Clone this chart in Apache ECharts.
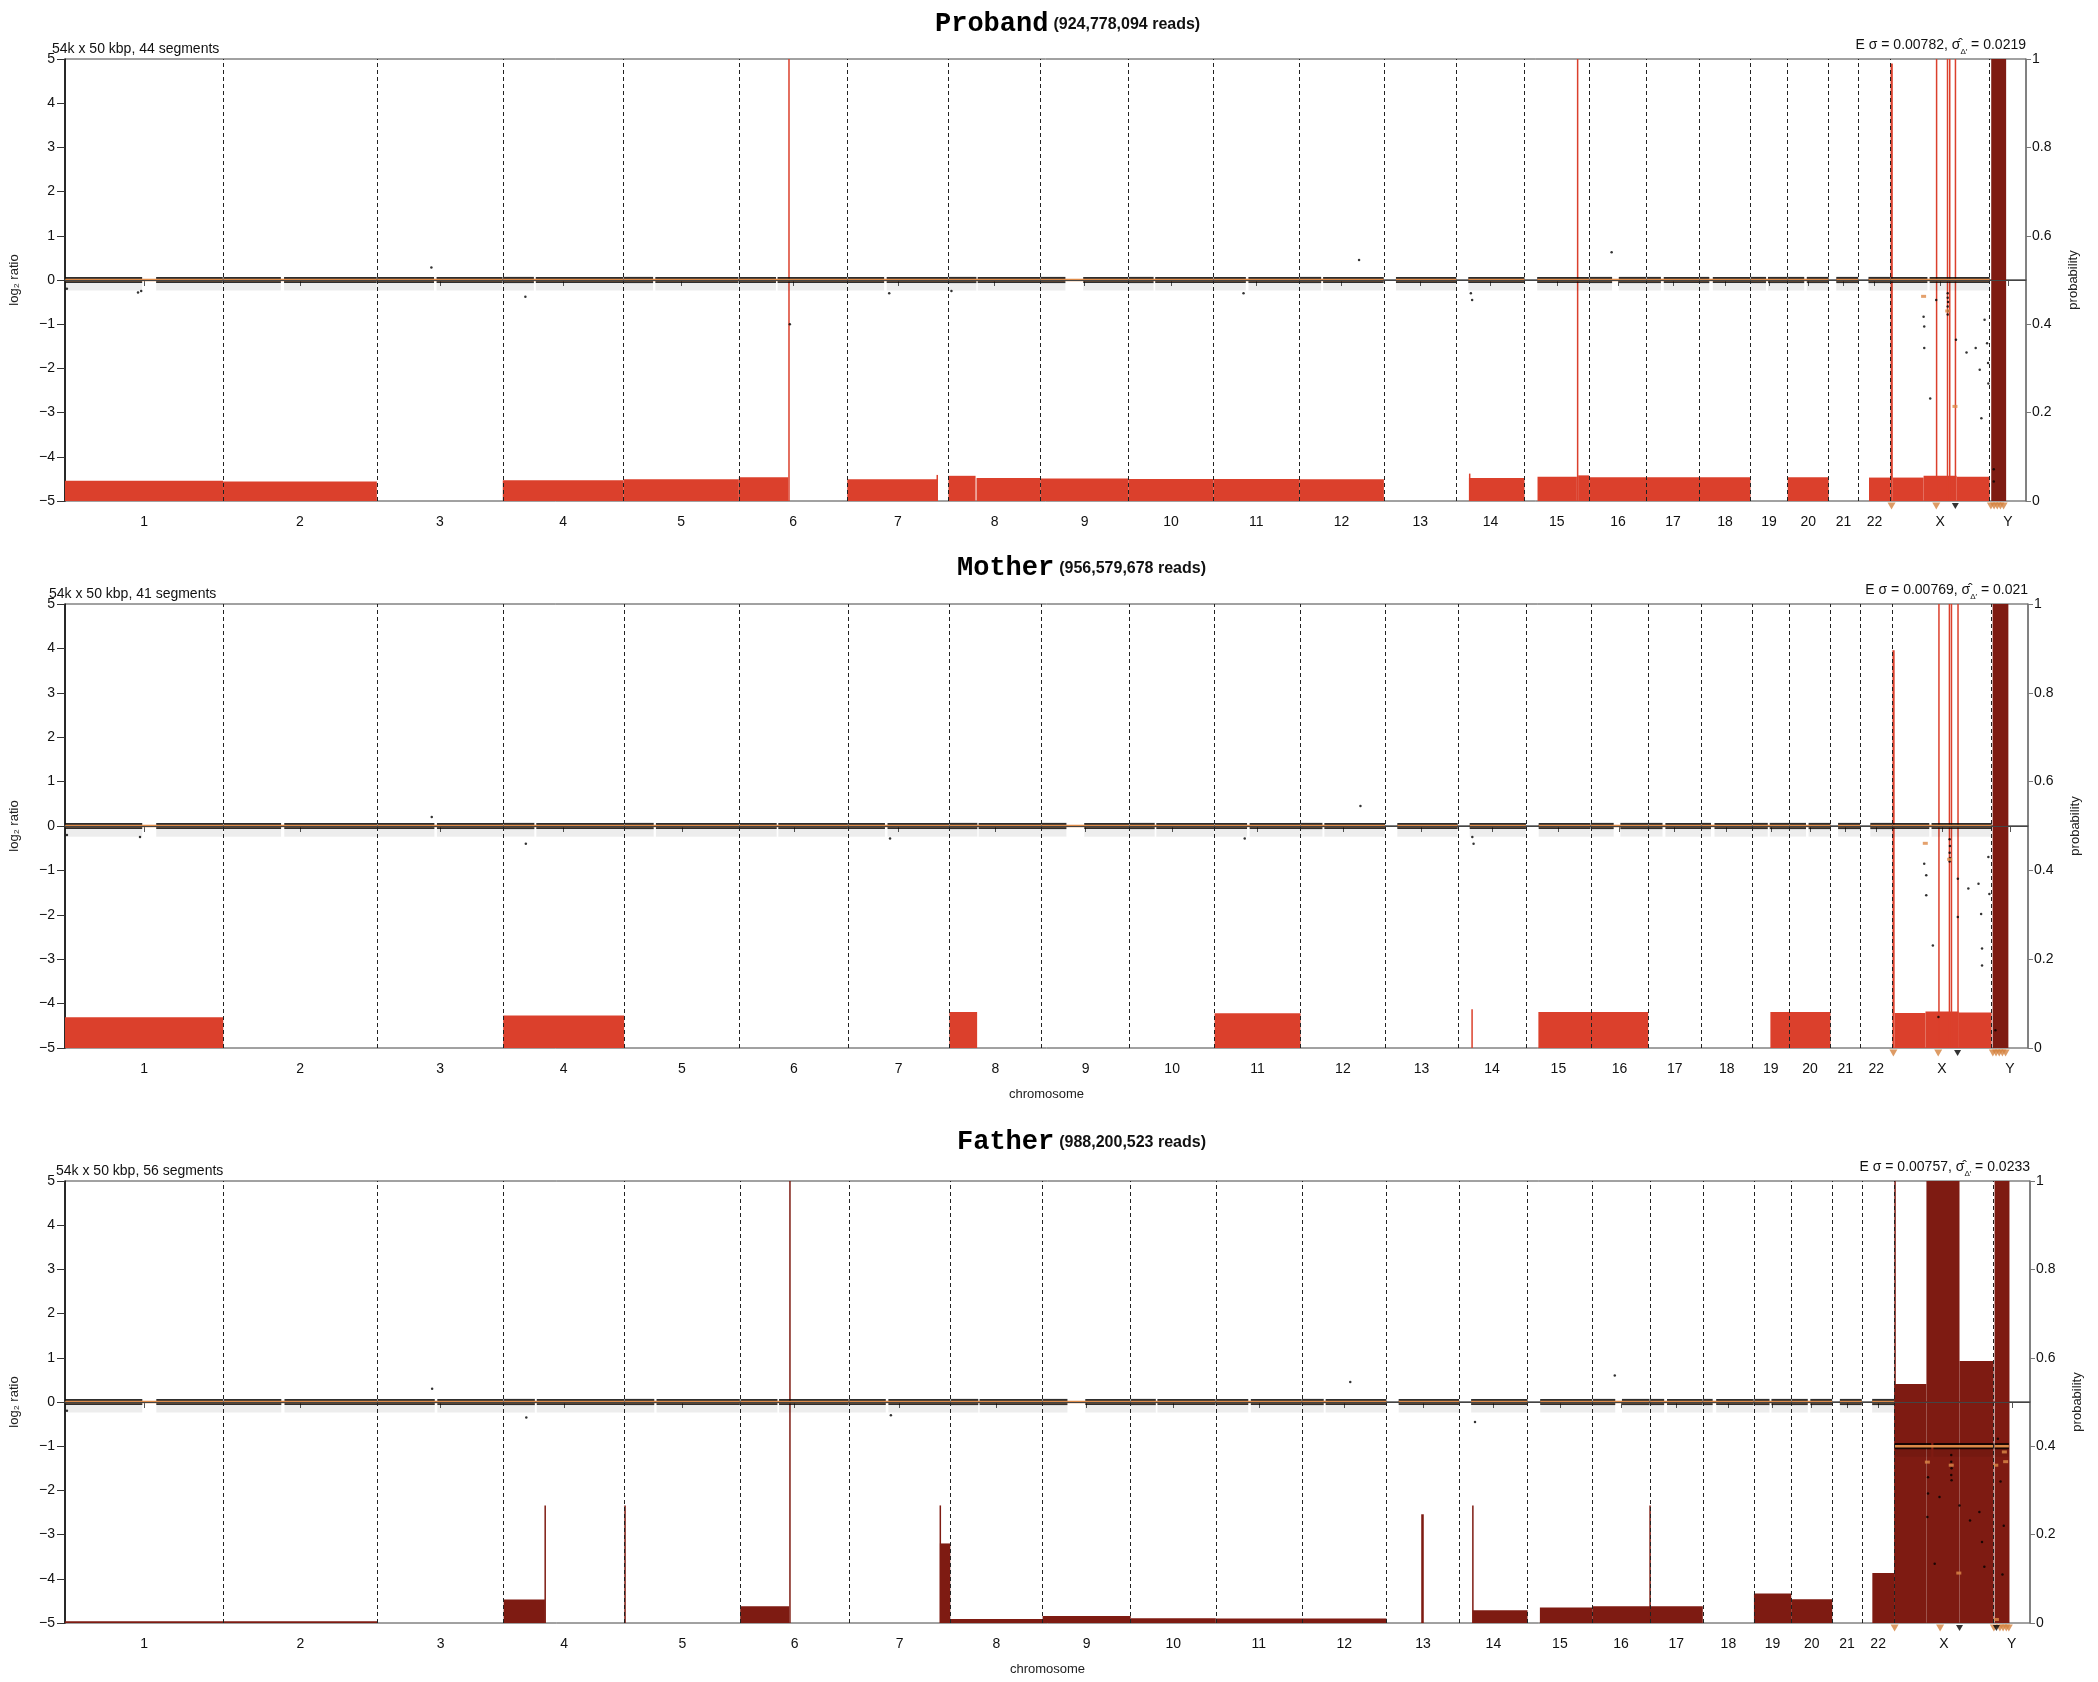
<!DOCTYPE html>
<html>
<head>
<meta charset="utf-8">
<script src="https://cdn.jsdelivr.net/npm/echarts@6/dist/echarts.min.js"></script>
<style>
  html, body { margin: 0; padding: 0; background: #fff; }
  #container { width: 2098px; height: 1682px; }
</style>
</head>
<body>
<div id="container"></div>
<script>
// chromosomes and their lengths (Mb, hg38)
const chromNames = ['1','2','3','4','5','6','7','8','9','10','11','12','13','14','15','16','17','18','19','20','21','22','X','Y'];
const chromLengths = [248.96, 242.19, 198.30, 190.21, 181.54, 170.81, 159.35, 145.14, 138.39, 133.80, 135.09, 133.28,
  114.36, 107.04, 101.99, 90.34, 83.26, 80.37, 58.62, 64.44, 46.71, 50.82, 156.04, 57.23];

// regions with bins (chromosome, start Mb, end Mb)
const autosomeArms = [
  ['1', 0.5, 121.5], ['1', 143.5, 248.5], ['2', 0.5, 91], ['2', 96, 242], ['3', 0.5, 90], ['3', 94, 198],
  ['4', 0.5, 49], ['4', 52, 190], ['5', 0.5, 46.5], ['5', 50, 181], ['6', 0.5, 58.5], ['6', 61, 170.5],
  ['7', 0.5, 58], ['7', 62, 159], ['8', 0.5, 44], ['8', 46, 145], ['9', 0.5, 39], ['9', 67, 138],
  ['10', 0.5, 39.5], ['10', 42, 133.5], ['11', 0.5, 51], ['11', 55, 135], ['12', 0.5, 34.5], ['12', 37.5, 133],
  ['13', 19, 114], ['14', 18.5, 107], ['15', 20, 101.5], ['16', 0.5, 36], ['16', 46.5, 90],
  ['17', 0.5, 22.5], ['17', 27, 83], ['18', 0.5, 15.5], ['18', 21, 80], ['19', 0.5, 24.5], ['19', 27.5, 58.5],
  ['20', 0.5, 26], ['20', 30, 64.3], ['21', 12, 46.5], ['22', 16, 50.7]
];
const xArms = [['X', 0.5, 58], ['X', 61.5, 156]];
const yArms = [['Y', 1.5, 24]];

// log2 level of the X / Y segments
const probandXLevel = 0;
const motherXLevel = 0;
const fatherXLevel = -1.0;
const fatherYLevel = -1.0;

// probability bars: [start, end, probability] in genome Mb
const probandRedBars = [
  [0, 248.96, 0.046], [248.96, 491.15, 0.044], [689.45, 879.66, 0.047], [879.66, 1061.2, 0.049],
  [1061.2, 1139, 0.054], [1232.01, 1374, 0.049], [1372.5, 1374.5, 0.059], [1391.36, 1434, 0.057],
  [1435.5, 1536.5, 0.052], [1536.5, 1674.89, 0.051], [1674.89, 1808.69, 0.05], [1808.69, 1943.78, 0.05],
  [1943.78, 2077.06, 0.049], [2211, 2298.46, 0.052], [2211, 2212.5, 0.062], [2319, 2381, 0.055],
  [2383, 2400.45, 0.058], [2400.45, 2654.42, 0.054], [2713.04, 2777.48, 0.054], [2841, 2875.01, 0.053],
  [2878.5, 2927, 0.053], [2927, 2979, 0.057], [2979, 3031, 0.055],
  [1139, 1141, 1.0], [2381, 2383, 1.0], [2875.01, 2878.5, 0.99],
  [2946.3, 2947.3, 1.0], [2963.5, 2965, 1.0], [2967, 2968.5, 1.0], [2976, 2977, 1.0]
];
const probandDarkBars = [[3033.5, 3057, 1.0]];

const motherRedBars = [
  [0, 248.96, 0.069], [689.45, 879.66, 0.073], [1391.36, 1435, 0.081], [1808.69, 1943.78, 0.078],
  [2212.5, 2214, 0.087], [2318, 2490.79, 0.081], [2683, 2777.48, 0.081],
  [2878.5, 2927, 0.079], [2927, 2979, 0.082], [2979, 3031, 0.08], [2875.01, 2878.5, 0.896],
  [2947, 2948, 1.0], [2963.5, 2965.3, 1.0], [2966.7, 2968.5, 1.0], [2977, 2978, 1.0]
];
const motherDarkBars = [[3032.6, 3057.4, 1.0]];

const fatherRedBars = [];
const fatherDarkBars = [
  [0, 491.15, 0.004], [689.45, 754.3, 0.053], [753.5, 755.5, 0.266], [879, 880.5, 0.266],
  [1061.2, 1138.2, 0.038], [1138.2, 1140, 1.0], [1374.5, 1376, 0.266], [1375, 1391.36, 0.18],
  [1391.36, 1536.5, 0.009], [1536.5, 1674.89, 0.016], [1674.89, 1808.69, 0.011], [1808.69, 2077.06, 0.01],
  [2131.5, 2135.5, 0.246], [2211.5, 2213, 0.266], [2212, 2298.46, 0.029], [2318, 2400.45, 0.035],
  [2400.45, 2574.05, 0.038], [2490, 2491.5, 0.266], [2654.42, 2713.04, 0.067], [2713.04, 2777.48, 0.054],
  [2840.5, 2875.01, 0.113], [2875.01, 2925.5, 0.541], [2925.5, 2977.5, 1.0], [2977.5, 3031.05, 0.593],
  [2875.01, 2876.5, 1.0], [3032.6, 3056, 1.0]
];

// scattered bins away from the band: [genome Mb, log2 ratio]
const probandOutliers = [
  [3, -0.2], [115, -0.28], [120, -0.25], [577, 0.28], [725, -0.38], [1141.5, -1.0], [1298, -0.3], [1396, -0.25],
  [1856, -0.3], [2038, 0.45], [2214, -0.3], [2216, -0.45], [2435.7, 0.63],
  [2927, -0.83], [2928, -1.05], [2928, -1.54], [2937.4, -2.68], [2946.8, -0.45],
  [2965, -0.3], [2965, -0.4], [2965.5, -0.5], [2965, -0.6], [2965.5, -0.7], [2965, -0.78],
  [2978, -1.35], [2994.6, -1.64], [3009, -1.54], [3015.4, -2.03], [3018, -3.13], [3023, -0.9],
  [3027, -1.43], [3028.5, -1.88], [3029, -2.34], [3037.5, -4.28], [3037.5, -4.56]
];
const motherOutliers = [
  [3, -0.2], [118, -0.25], [577, 0.2], [725, -0.4], [1298, -0.28], [1856, -0.28], [2038, 0.45], [2216, -0.4],
  [2214, -0.25], [2925, -0.85], [2928.2, -1.11], [2928.2, -1.56], [2938.6, -2.69],
  [2965, -0.3], [2965.5, -0.45], [2965, -0.6], [2965.5, -0.72], [2965, -0.8],
  [2977.9, -1.19], [2977.9, -2.05], [2994.4, -1.41], [3010.4, -1.3], [3014.5, -1.98], [3016, -2.76],
  [3016, -3.14], [3025.9, -0.7], [3027.5, -1.53], [2947.4, -4.3], [3037, -4.6]
];
const fatherOutliers = [
  [3, -0.2], [577, 0.3], [725, -0.35], [1298, -0.3], [2020, 0.45], [2216, -0.45], [2435.7, 0.6],
  [2928, -1.7], [2928, -2.07], [2927, -2.6], [2964.5, -1.2], [2964.5, -1.35], [2965, -1.5], [2964.5, -1.65],
  [2965, -1.77], [2946, -2.15], [2977.5, -2.34], [2994, -2.68], [3008.7, -2.49], [3012.8, -3.17],
  [2938.5, -3.66], [3016.5, -3.73], [3037.8, -0.83], [3042, -1.8], [3047, -2.8], [3045, -3.9]
];

// segment means off the main line
const probandSegPoints = [[2927, -0.37], [2965, -0.7], [2976.4, -2.86]];
const motherSegPoints = [[2926.7, -0.39], [2965, -0.75]];
const fatherSegPoints = [[2927, -1.36], [2964.5, -1.43], [2976.4, -3.87], [3034.5, -1.43], [3048, -1.13], [3050, -1.35], [3035.5, -4.92]];

// markers under the axis
const probandOrangeMarks = [2876.5, 2947, 3033, 3038, 3043, 3048, 3053];
const probandBlackMarks = [2977];
const motherOrangeMarks = [2876.5, 2947, 3033, 3038, 3043, 3048, 3053];
const motherBlackMarks = [2977.5];
const fatherOrangeMarks = [2875.5, 2947, 3031.5, 3041, 3046, 3051, 3055];
const fatherBlackMarks = [2977.5, 3035.5];

const probandLabel = ['Proband', '924,778,094', 44, '0.00782', '0.0219'];
const motherLabel = ['Mother', '956,579,678', 41, '0.00769', '0.021'];
const fatherLabel = ['Father', '988,200,523', 56, '0.00757', '0.0233'];

// ---- derived positions ----
const chromStarts = [];
let acc = 0;
chromLengths.forEach(l => { chromStarts.push(acc); acc += l; });
const GENOME_END = acc;
const chromMids = chromStarts.map((s, i) => +(s + chromLengths[i] / 2).toFixed(3));
const midName = {};
chromMids.forEach((m, i) => { midName[m.toFixed(3)] = chromNames[i]; });
const boundaries = chromStarts.slice(1);

const g = (ch, pos) => chromStarts[chromNames.indexOf(ch)] + pos;
const bandData = (arms, level) => arms.map(a => [g(a[0], a[1]), g(a[0], a[2]), level]);
const segData = (arms, level) => {
  const out = {};
  arms.forEach(a => {
    const s = g(a[0], a[1]), e = g(a[0], a[2]);
    if (!out[a[0]]) out[a[0]] = [s, e, level];
    else { out[a[0]][0] = Math.min(out[a[0]][0], s); out[a[0]][1] = Math.max(out[a[0]][1], e); }
  });
  return Object.values(out);
};

const ORANGE = '#dd8a48';
const RED = '#db402c';
const DARK = '#7e1b12';
const FONT = 'Liberation Sans';

const panels = [
  { label: probandLabel, left: 52, right: 2026, top: 59, bottom: 501, titleLeft: 935, titleTop: 11, xname: '',
    bands: bandData(autosomeArms, 0).concat(bandData(xArms, probandXLevel)),
    segs: segData(autosomeArms, 0).concat(segData(xArms, probandXLevel)),
    red: probandRedBars, dark: probandDarkBars, out: probandOutliers, segPts: probandSegPoints,
    om: probandOrangeMarks, bm: probandBlackMarks },
  { label: motherLabel, left: 49, right: 2028, top: 604, bottom: 1048, titleLeft: 957, titleTop: 555, xname: 'chromosome',
    bands: bandData(autosomeArms, 0).concat(bandData(xArms, motherXLevel)),
    segs: segData(autosomeArms, 0).concat(segData(xArms, motherXLevel)),
    red: motherRedBars, dark: motherDarkBars, out: motherOutliers, segPts: motherSegPoints,
    om: motherOrangeMarks, bm: motherBlackMarks },
  { label: fatherLabel, left: 56, right: 2030, top: 1181, bottom: 1623, titleLeft: 957, titleTop: 1129, xname: 'chromosome',
    bands: bandData(autosomeArms, 0).concat(bandData(xArms, fatherXLevel), bandData(yArms, fatherYLevel)),
    segs: segData(autosomeArms, 0).concat(segData(xArms, fatherXLevel), segData(yArms, fatherYLevel)),
    red: fatherRedBars, dark: fatherDarkBars, out: fatherOutliers, segPts: fatherSegPoints,
    om: fatherOrangeMarks, bm: fatherBlackMarks }
];

function barItem(color) {
  return function (params, api) {
    const a = api.coord([api.value(0), 0]);
    const b = api.coord([api.value(1), api.value(2)]);
    const w = Math.max(b[0] - a[0], 1.5);
    return { type: 'rect', shape: { x: a[0], y: b[1], width: w, height: a[1] - b[1] }, style: { fill: color } };
  };
}
function bandItem(params, api) {
  const x0 = api.value(0), x1 = api.value(1), lv = api.value(2);
  const a = api.coord([x0, lv + 0.07]);
  const b = api.coord([x1, lv - 0.07]);
  const c = api.coord([x1, lv - 0.24]);
  return { type: 'group', children: [
    { type: 'rect', shape: { x: a[0], y: b[1], width: c[0] - a[0], height: c[1] - b[1] }, style: { fill: 'rgba(0,0,0,0.07)' } },
    { type: 'rect', shape: { x: a[0], y: a[1], width: b[0] - a[0], height: b[1] - a[1] }, style: { fill: 'rgba(0,0,0,0.82)' } }
  ] };
}
function segItem(params, api) {
  const a = api.coord([api.value(0), api.value(2)]);
  const b = api.coord([api.value(1), api.value(2)]);
  return { type: 'line', shape: { x1: a[0], y1: a[1], x2: b[0], y2: b[1] }, style: { stroke: ORANGE, lineWidth: 2.5 } };
}

const grid = [], xAxis = [], yAxis = [], series = [], title = [];
const fmtLog = v => (v < 0 ? '\u2212' + (-v) : String(v));

panels.forEach((p, i) => {
  grid.push({ left: p.left, top: p.top, width: p.right - p.left, height: p.bottom - p.top,
    show: true, borderColor: '#444', borderWidth: 1 });
  xAxis.push({ type: 'value', gridIndex: i, min: 0, max: GENOME_END,
    name: p.xname, nameLocation: 'middle', nameGap: 40,
    nameTextStyle: { fontFamily: FONT, fontSize: 13, color: '#222' },
    axisLine: { show: true, lineStyle: { color: '#555', width: 1.5 } },
    axisTick: { show: true, length: 6, lineStyle: { color: '#555' }, customValues: chromMids },
    axisLabel: { customValues: chromMids, margin: 14, fontFamily: FONT, fontSize: 14, color: '#111',
      formatter: v => midName[(+v).toFixed(3)] || '' },
    splitLine: { show: false } });
  yAxis.push({ type: 'value', gridIndex: i, min: -5, max: 5, interval: 1, position: 'left',
    name: 'log\u2082 ratio', nameLocation: 'middle', nameRotate: 90, nameGap: 44,
    nameTextStyle: { fontFamily: FONT, fontSize: 13, color: '#222' },
    axisLine: { show: true, lineStyle: { color: '#000', width: 1.5 } },
    axisTick: { show: true, length: 8, lineStyle: { color: '#333' } },
    axisLabel: { margin: 10, fontFamily: FONT, fontSize: 14, color: '#111', formatter: fmtLog },
    splitLine: { show: false } });
  yAxis.push({ type: 'value', gridIndex: i, min: 0, max: 1, interval: 0.2, position: 'right',
    name: 'probability', nameLocation: 'middle', nameRotate: 90, nameGap: 41,
    nameTextStyle: { fontFamily: FONT, fontSize: 13, color: '#222' },
    axisLine: { show: true, lineStyle: { color: '#777', width: 1.5 } },
    axisTick: { show: true, length: 5, lineStyle: { color: '#777' } },
    axisLabel: { margin: 6, fontFamily: FONT, fontSize: 14, color: '#111', formatter: v => String(+(+v).toFixed(1)) },
    splitLine: { show: false } });

  const yl = 2 * i, yp = 2 * i + 1;
  series.push({ type: 'custom', xAxisIndex: i, yAxisIndex: yp, renderItem: barItem(RED), data: p.red,
    encode: { x: [0, 1], y: 2 }, z: 1, silent: true });
  series.push({ type: 'custom', xAxisIndex: i, yAxisIndex: yp, renderItem: barItem(DARK), data: p.dark,
    encode: { x: [0, 1], y: 2 }, z: 1, silent: true });
  series.push({ type: 'custom', xAxisIndex: i, yAxisIndex: yl, renderItem: bandItem, data: p.bands,
    encode: { x: [0, 1], y: 2 }, z: 2, silent: true });
  series.push({ type: 'custom', xAxisIndex: i, yAxisIndex: yl, renderItem: segItem, data: p.segs,
    encode: { x: [0, 1], y: 2 }, z: 3, silent: true });
  series.push({ type: 'scatter', xAxisIndex: i, yAxisIndex: yl, data: p.out, symbolSize: 2.5,
    itemStyle: { color: '#000' }, z: 4, silent: true });
  series.push({ type: 'scatter', xAxisIndex: i, yAxisIndex: yl, data: p.segPts, symbol: 'rect', symbolSize: [5, 3],
    itemStyle: { color: ORANGE }, z: 4, silent: true });
  series.push({ type: 'scatter', xAxisIndex: i, yAxisIndex: yl, data: p.om.map(v => [v, -5]), symbol: 'triangle',
    symbolRotate: 180, symbolSize: [8, 7], symbolOffset: [0, 5], clip: false,
    itemStyle: { color: '#d4823e' }, z: 4, silent: true });
  series.push({ type: 'scatter', xAxisIndex: i, yAxisIndex: yl, data: p.bm.map(v => [v, -5]), symbol: 'triangle',
    symbolRotate: 180, symbolSize: [7, 6], symbolOffset: [0, 5], clip: false,
    itemStyle: { color: '#000' }, z: 4, silent: true,
    markLine: { silent: true, symbol: 'none', animation: false, label: { show: false }, z: 6,
      data: boundaries.map(b => ({ xAxis: b, lineStyle: { type: [4, 3], color: '#222', width: 1 } }))
        .concat([{ yAxis: 0, lineStyle: { type: 'solid', color: '#444', width: 1.2 } }]) } });

  const L = p.label;
  title.push({ left: p.titleLeft, top: p.titleTop, padding: 0,
    text: '{a|' + L[0] + '} {b|(' + L[1] + ' reads)}',
    textStyle: { rich: {
      a: { fontFamily: 'Liberation Mono', fontWeight: 'bold', fontSize: 27, color: '#000' },
      b: { fontFamily: FONT, fontWeight: 'bold', fontSize: 16, color: '#111' } } } });
  title.push({ left: p.left, top: p.top - 17, padding: 0,
    text: '54k x 50 kbp, ' + L[2] + ' segments',
    textStyle: { fontFamily: FONT, fontWeight: 'normal', fontSize: 14, color: '#111' } });
  title.push({ right: 2098 - p.right, top: p.top - 21, padding: 0,
    text: '{n|E \u03c3 = ' + L[3] + ', \u03c3\u0302}{s|\u0394\u2032}{n| = ' + L[4] + '}',
    textStyle: { fontWeight: 'normal', rich: {
      n: { fontFamily: FONT, fontWeight: 'normal', fontSize: 14, color: '#111', lineHeight: 18, verticalAlign: 'top' },
      s: { fontFamily: FONT, fontWeight: 'normal', fontSize: 8, color: '#111', lineHeight: 18, verticalAlign: 'bottom' } } } });
});

const chart = echarts.init(document.getElementById('container'), null, { renderer: 'canvas' });
chart.setOption({ animation: false, backgroundColor: '#fff', title, grid, xAxis, yAxis, series });
</script>
</body>
</html>
